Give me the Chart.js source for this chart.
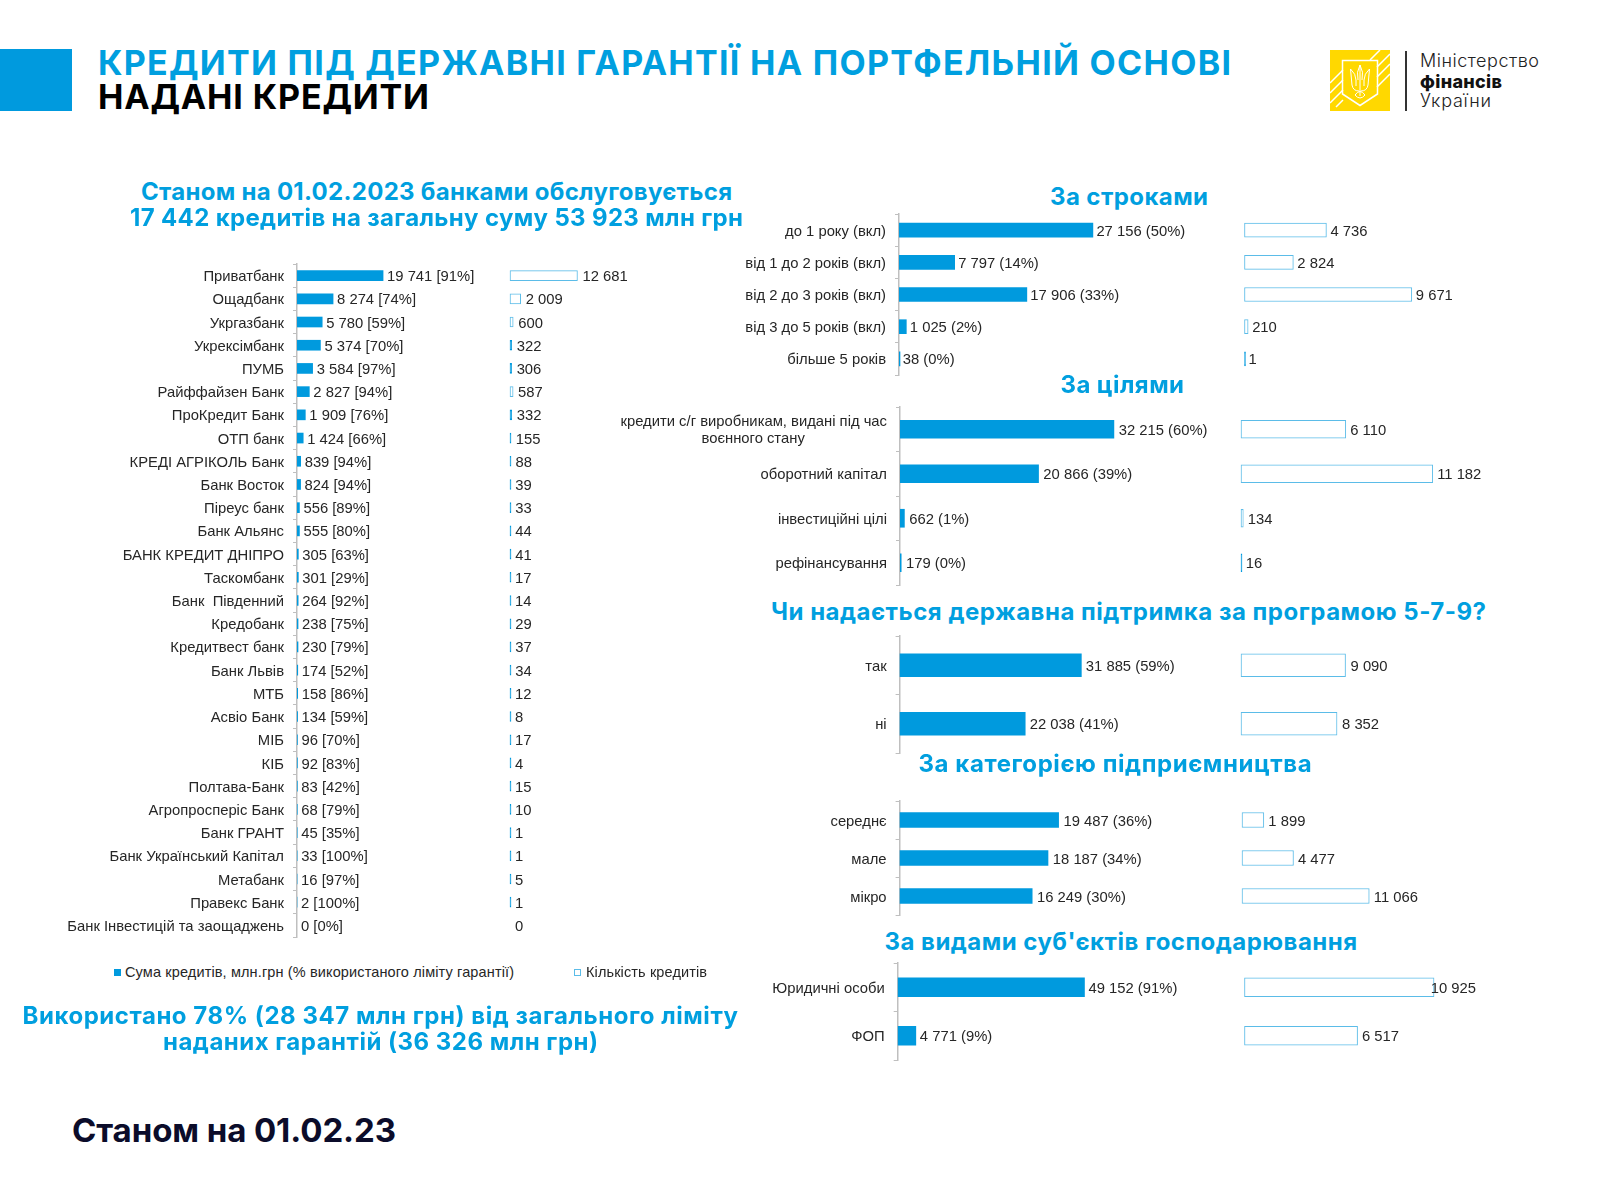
<!DOCTYPE html>
<html lang="uk">
<head>
  <meta charset="UTF-8">
  <title>Кредити під державні гарантії на портфельній основі</title>
  <script src="https://cdn.jsdelivr.net/npm/chart.js"></script>
  <style>
    body { margin: 0; width: 1600px; height: 1200px; background: #fff; position: relative; overflow: hidden; }
    canvas { position: absolute; }
    .txt { position: absolute; white-space: nowrap; line-height: 1; }
    .box { position: absolute; width: 7px; height: 7px; box-sizing: border-box; }
  </style>
</head>
<body>

  <!-- Blue square and ministry logo -->
  <div style="position:absolute;left:0;top:49px;width:72px;height:62px;background:#009ade"></div>
  <svg style="position:absolute;left:1330px;top:50px" width="60" height="61" viewBox="0 0 60 61">
    <rect width="60" height="61" fill="#ffd800"/>
    <g stroke="#fff" stroke-width="1.5" fill="none">
      <path d="M0 33L13 20M0 43L13 30M0 53L13 40M6 57L13 50"/>
      <path d="M47 17L60 4M47 27L60 14M47 37L60 24M40 10L50 0"/>
      <path d="M12.5 10.5H47.5V44L30 55.5L12.5 44Z"/>
      <g stroke-width="1">
        <path d="M30 15V46"/>
        <path d="M20.5 19L22 35Q23 41 29 41M39.5 19L38 35Q37 41 31 41"/>
        <path d="M20.5 19Q26 24 26 30V36M39.5 19Q34 24 34 30V36"/>
        <path d="M30 15Q26 22 28 30M30 15Q34 22 32 30"/>
        <path d="M25 45Q30 38 35 45Q30 51 25 45"/>
      </g>
    </g>
  </svg>
  <div style="position:absolute;left:1405px;top:51px;width:1.5px;height:60px;background:#333"></div>

  <canvas id="chartBanks"></canvas>
  <canvas id="chartTerms"></canvas>
  <canvas id="chartGoals"></canvas>
  <canvas id="chartSupport"></canvas>
  <canvas id="chartSize"></canvas>
  <canvas id="chartEntity"></canvas>

  <!-- Legend for the banks chart -->
  <div class="box" style="left:114px;top:969px;background:#009ade"></div>
  <div class="box" style="left:574px;top:969px;border:1px solid #5bbce8"></div>

  <script>
    // Bank table
    const bankNames = ['Приватбанк', 'Ощадбанк', 'Укргазбанк', 'Укрексімбанк', 'ПУМБ', 'Райффайзен Банк', 'ПроКредит Банк', 'ОТП банк', 'КРЕДІ АГРІКОЛЬ Банк', 'Банк Восток', 'Піреус банк', 'Банк Альянс', 'БАНК КРЕДИТ ДНІПРО', 'Таскомбанк', 'Банк  Південний', 'Кредобанк', 'Кредитвест банк', 'Банк Львів', 'МТБ', 'Асвіо Банк', 'МІБ', 'КІБ', 'Полтава-Банк', 'Агропросперіс Банк', 'Банк ГРАНТ', 'Банк Український Капітал', 'Метабанк', 'Правекс Банк', 'Банк Інвестицій та заощаджень'];
    const bankSums = [19741, 8274, 5780, 5374, 3584, 2827, 1909, 1424, 839, 824, 556, 555, 305, 301, 264, 238, 230, 174, 158, 134, 96, 92, 83, 68, 45, 33, 16, 2, 0];
    const bankShares = [91, 74, 59, 70, 97, 94, 76, 66, 94, 94, 89, 80, 63, 29, 92, 75, 79, 52, 86, 59, 70, 83, 42, 79, 35, 100, 97, 100, 0];
    const bankCounts = [12681, 2009, 600, 322, 306, 587, 332, 155, 88, 39, 33, 44, 41, 17, 14, 29, 37, 34, 12, 8, 17, 4, 15, 10, 1, 1, 5, 1, 0];

    // За строками
    const termNames = ['до 1 року (вкл)', 'від 1 до 2 років (вкл)', 'від 2 до 3 років (вкл)', 'від 3 до 5 років (вкл)', 'більше 5 років'];
    const termSums = [27156, 7797, 17906, 1025, 38];
    const termShares = [50, 14, 33, 2, 0];
    const termCounts = [4736, 2824, 9671, 210, 1];

    // За цілями
    const goalNames = [['кредити с/г виробникам, видані під час', 'воєнного стану'], 'оборотний капітал', 'інвестиційні цілі', 'рефінансування'];
    const goalSums = [32215, 20866, 662, 179];
    const goalShares = [60, 39, 1, 0];
    const goalCounts = [6110, 11182, 134, 16];

    // Програма 5-7-9
    const supportNames = ['так', 'ні'];
    const supportSums = [31885, 22038];
    const supportShares = [59, 41];
    const supportCounts = [9090, 8352];

    // За категорією
    const sizeNames = ['середнє', 'мале', 'мікро'];
    const sizeSums = [19487, 18187, 16249];
    const sizeShares = [36, 34, 30];
    const sizeCounts = [1899, 4477, 11066];

    // За видами суб'єктів
    const entityNames = ['Юридичні особи', 'ФОП'];
    const entitySums = [49152, 4771];
    const entityShares = [91, 9];
    const entityCounts = [10925, 6517];

    const BLUE = '#009ade';
    const HEAD_BLUE = '#009fdf';
    const OUTLINE = '#5bbce8';
    const TEXT = '#262626';
    const AXIS = '#bfbfbf';
    const ARIAL = '"Liberation Sans", Arial, sans-serif';
    const INTER = 'Inter, sans-serif';
    const TEXT_DROP = 1.5; // canvas 'middle' sits a little high

    const measure = document.createElement('canvas').getContext('2d');

    // Text placed between x0 and x1, letter spacing adjusted to fill it
    function addText(text, x0, x1, yMid, size, weight, color, family) {
      measure.font = `${weight} ${size}px ${family}`;
      const spacing = (x1 - x0 - measure.measureText(text).width) / (text.length - 1);
      const el = document.createElement('div');
      el.className = 'txt';
      el.textContent = text;
      el.style.cssText = `left:${x0}px;top:${yMid - size / 2}px;font:${weight} ${size}px/1 ${family};color:${color};letter-spacing:${spacing}px`;
      document.body.appendChild(el);
    }

    function spaced(n) {
      return String(n).replace(/\B(?=(\d{3})+$)/g, ' ');
    }

    // Writes the value next to the end of each bar
    const barLabels = {
      id: 'barLabels',
      afterDatasetsDraw(chart, args, opts) {
        const { ctx, scales } = chart;
        ctx.save();
        ctx.font = `${opts.size}px ${ARIAL}`;
        ctx.fillStyle = TEXT;
        ctx.textBaseline = 'middle';
        ctx.textAlign = 'left';
        opts.sumTexts.forEach((t, i) => {
          ctx.fillText(t, scales.x.getPixelForValue(opts.sums[i]) + opts.sumGap, scales.y.getPixelForTick(i) + TEXT_DROP);
        });
        opts.counts.forEach((c, i) => {
          const gap = c === opts.overlapValue ? -3.4 : opts.countGap;
          ctx.fillText(spaced(c), scales.x2.getPixelForValue(c) + gap, scales.y.getPixelForTick(i) + TEXT_DROP);
        });
        ctx.restore();
      }
    };

    // Second line of a two line label sits centred under the first
    function tickLabel(label, font) {
      if (!Array.isArray(label)) return label;
      measure.font = font;
      const pad = (measure.measureText(label[0]).width - measure.measureText(label[1]).width) / 2;
      const nbsp = measure.measureText('\u00a0').width;
      return [label[0], label[1] + '\u00a0'.repeat(Math.round(pad / nbsp))];
    }

    function makePanel(id, p, names, sums, counts, sumTexts) {
      const canvas = document.getElementById(id);
      canvas.width = p.width;
      canvas.height = p.height + 4;
      canvas.style.left = p.left + 'px';
      canvas.style.top = (p.top - 2) + 'px';
      const plotWidth = p.width - (p.axisX - p.left);
      const countOffset = p.countX - p.axisX;
      // hairline count bars have no room for a white inside, they show as a solid line
      const hairline = c => c.raw * p.countRate < 2;

      return new Chart(canvas, {
        type: 'bar',
        data: {
          labels: names,
          datasets: [
            {
              label: 'Сума кредитів, млн.грн (% використаного ліміту гарантії)',
              data: sums.map(v => v || null),
              xAxisID: 'x',
              backgroundColor: BLUE,
              barThickness: p.barH,
              minBarLength: p.minSum
            },
            {
              label: 'Кількість кредитів',
              data: counts.map(v => v || null),
              xAxisID: 'x2',
              backgroundColor: c => (hairline(c) ? BLUE : '#ffffff'),
              borderColor: c => (hairline(c) ? BLUE : OUTLINE),
              borderWidth: 1,
              borderSkipped: false,
              barThickness: p.barH,
              minBarLength: 1
            }
          ]
        },
        options: {
          indexAxis: 'y',
          responsive: false,
          animation: false,
          grouped: false,
          layout: { padding: { top: 2, bottom: 2, left: 0, right: 0 } },
          plugins: {
            legend: { display: false },
            tooltip: { enabled: false },
            barLabels: {
              sums, counts, sumTexts,
              size: p.size,
              sumGap: p.sumGap,
              countGap: p.countGap,
              overlapValue: p.overlapValue
            }
          },
          scales: {
            x: { display: false, min: 0, max: plotWidth / p.sumRate },
            x2: { display: false, min: -countOffset / p.countRate, max: (plotWidth - countOffset) / p.countRate },
            y: {
              type: 'category',
              offset: true,
              // fixed axis position, and no room kept for the first and last label
              afterFit: s => {
                s.width = p.axisX - p.left;
                s.paddingTop = 0;
                s.paddingBottom = 0;
              },
              border: { color: AXIS, width: 1.5 },
              grid: { drawOnChartArea: false, offset: true, color: AXIS, tickLength: 4, lineWidth: 1 },
              ticks: {
                autoSkip: false,
                padding: p.labelPad,
                labelOffset: TEXT_DROP,
                color: TEXT,
                font: { family: 'Liberation Sans', size: p.size, lineHeight: 1.15 },
                callback(value) {
                  return tickLabel(this.getLabelForValue(value), `${p.size}px ${ARIAL}`);
                }
              }
            }
          }
        },
        plugins: [barLabels]
      });
    }

    const withBrackets = (sums, shares) => sums.map((v, i) => `${spaced(v)} [${shares[i]}%]`);
    const withParens = (sums, shares) => sums.map((v, i) => `${spaced(v)} (${shares[i]}%)`);

    // sumRate and countRate are pixels per unit
    makePanel('chartBanks',
      { left: 40, width: 660, top: 264, height: 673, axisX: 297, sumRate: 0.00436, countX: 510, countRate: 0.00532, barH: 10, size: 14.8, labelPad: 9, sumGap: 4, countGap: 5, minSum: 0 },
      bankNames, bankSums, bankCounts, withBrackets(bankSums, bankShares));

    makePanel('chartTerms',
      { left: 600, width: 900, top: 214, height: 161, axisX: 899, sumRate: 0.00714, countX: 1244.5, countRate: 0.0173, barH: 14, size: 14.8, labelPad: 9, sumGap: 3.5, countGap: 4, minSum: 1 },
      termNames, termSums, termCounts, withParens(termSums, termShares));

    makePanel('chartGoals',
      { left: 600, width: 900, top: 407, height: 178.5, axisX: 900, sumRate: 0.00664, countX: 1241, countRate: 0.01715, barH: 18, size: 14.8, labelPad: 9, sumGap: 4.8, countGap: 4.4, minSum: 1 },
      goalNames, goalSums, goalCounts, withParens(goalSums, goalShares));

    makePanel('chartSupport',
      { left: 600, width: 900, top: 635.5, height: 117, axisX: 899.6, sumRate: 0.0057, countX: 1241, countRate: 0.0115, barH: 23, size: 14.8, labelPad: 9, sumGap: 4.5, countGap: 5, minSum: 1 },
      supportNames, supportSums, supportCounts, withParens(supportSums, supportShares));

    makePanel('chartSize',
      { left: 600, width: 900, top: 801, height: 114.5, axisX: 899.6, sumRate: 0.00816, countX: 1242, countRate: 0.0115, barH: 15, size: 14.8, labelPad: 9, sumGap: 4.8, countGap: 4.5, minSum: 1 },
      sizeNames, sizeSums, sizeCounts, withParens(sizeSums, sizeShares));

    makePanel('chartEntity',
      { left: 600, width: 900, top: 962.5, height: 97, axisX: 897.7, sumRate: 0.0038, countX: 1244.5, countRate: 0.01735, barH: 19, size: 14.8, labelPad: 9, sumGap: 4, countGap: 4.4, minSum: 1, overlapValue: 10925 },
      entityNames, entitySums, entityCounts, withParens(entitySums, entityShares));

    // Headings
    addText('КРЕДИТИ ПІД ДЕРЖАВНІ ГАРАНТІЇ НА ПОРТФЕЛЬНІЙ ОСНОВІ', 98, 1231, 62.5, 34, 700, HEAD_BLUE, INTER);
    addText('НАДАНІ КРЕДИТИ', 98, 429, 97, 34, 700, '#000000', INTER);
    addText('Міністерство', 1420, 1539, 61, 18, 300, '#222222', INTER);
    addText('фінансів', 1420, 1502, 82, 18, 800, '#111111', INTER);
    addText('України', 1420, 1491, 101, 18, 300, '#222222', INTER);

    addText('Станом на 01.02.2023 банками обслуговується', 141, 732, 191.5, 24, 700, HEAD_BLUE, INTER);
    addText('17 442 кредитів на загальну суму 53 923 млн грн', 130, 743, 218, 24, 700, HEAD_BLUE, INTER);

    addText('За строками', 1050, 1208, 196.5, 24, 700, HEAD_BLUE, INTER);
    addText('За цілями', 1060.5, 1184, 384.5, 24, 700, HEAD_BLUE, INTER);
    addText('Чи надається державна підтримка за програмою 5-7-9?', 771, 1486, 612, 24, 700, HEAD_BLUE, INTER);
    addText('За категорією підприємництва', 918.5, 1311.6, 763.5, 24, 700, HEAD_BLUE, INTER);
    addText('За видами суб\'єктів господарювання', 884.6, 1357, 941.5, 24, 700, HEAD_BLUE, INTER);

    addText('Використано 78% (28 347 млн грн) від загального ліміту', 22.5, 738, 1015.5, 24, 700, HEAD_BLUE, INTER);
    addText('наданих гарантій (36 326 млн грн)', 163, 598, 1041.5, 24, 700, HEAD_BLUE, INTER);
    addText('Станом на 01.02.23', 72, 396, 1130, 33, 700, '#0b0c2a', INTER);

    // Legend
    addText('Сума кредитів, млн.грн (% використаного ліміту гарантії)', 125, 514, 972.5, 14.5, 400, TEXT, ARIAL);
    addText('Кількість кредитів', 586, 707, 972.5, 14.5, 400, TEXT, ARIAL);
  </script>

</body>
</html>
